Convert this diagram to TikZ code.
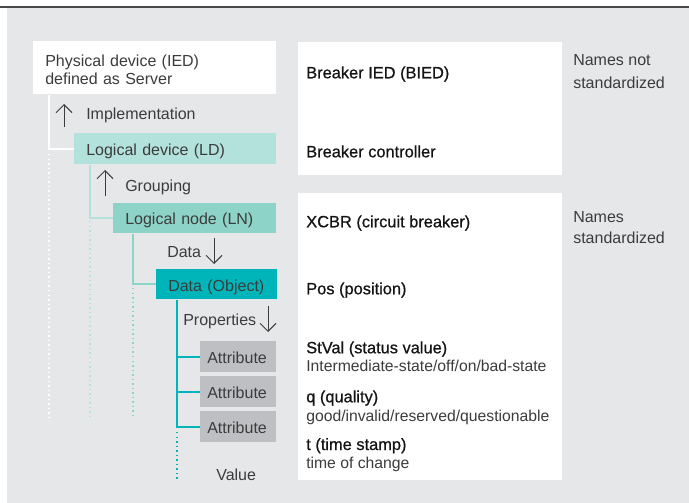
\documentclass[tikz,border=0pt]{standalone}
\usepackage{fontspec}
\setmainfont{Liberation Sans}
\usetikzlibrary{arrows.meta}
\definecolor{bg}{HTML}{E6E7E9}
\definecolor{ldc}{HTML}{B3E1DC}
\definecolor{lnc}{HTML}{8ED3C8}
\definecolor{doc}{HTML}{00B5BA}
\definecolor{attc}{HTML}{BEBFC3}
\definecolor{txt}{HTML}{3C3C3C}
\definecolor{dtxt}{HTML}{141414}
\definecolor{topline}{HTML}{4A4A4A}
\begin{document}
\begin{tikzpicture}[x=0.75pt,y=-0.75pt,
  lbl/.style={font=\fontsize{12}{14}\selectfont, text=txt, inner sep=0pt, anchor=base west},
  namelbl/.style={font=\fontsize{12.3}{14}\selectfont\addfontfeature{FakeBold=0.7}, text=dtxt, inner sep=0pt, anchor=base west},
  desc/.style={font=\fontsize{11.8}{14}\selectfont, text=txt, inner sep=0pt, anchor=base west},
  box/.style={anchor=north west, inner xsep=9pt, inner ysep=0pt, align=left,
    font=\fontsize{12}{13.9}\selectfont, text=txt, text height=12pt, text depth=2pt},
  attbox/.style={box, fill=attc, inner xsep=5.25pt, text width=46.5pt, minimum height=23.25pt},
  panel/.style={fill=white, anchor=north west, inner sep=0pt},
  tree/.style={line width=1.5pt},
  dots/.style={line width=1.5pt, dash pattern=on 1.1pt off 2.3pt},
  arr/.style={-{Straight Barb[length=6pt,width=12pt]}, line width=0.75pt, draw=txt}
]
\useasboundingbox (0,0) rectangle (689,503);
\fill[bg] (7,8) rectangle (689,503);
\draw[topline, line width=1.1pt] (0,7) -- (689,7);

% right panels
\node[panel, minimum width=198pt, minimum height=99.75pt] (rb1) at (298,42) {};
\node[panel, minimum width=198pt, minimum height=215.25pt] (rb2) at (298,193) {};

% dotted continuations
\draw[dots, white] (49,154) -- (49,418);
\draw[dots, ldc] (90,221) -- (90,418);
\draw[dots, lnc] (133,288) -- (133,418);
\draw[dots, doc] (177,432) -- (177,480);

% hierarchy boxes
\node[box, fill=white, text width=164.25pt, minimum height=39.75pt, text height=12pt, text depth=14.25pt] (ied) at (33,41)
  {Physical device (IED)\\defined as Server};
\node[box, fill=ldc, text width=133.5pt, minimum height=23.25pt] (ld) at (74,133)
  {Logical device (LD)};
\node[box, fill=lnc, text width=104.25pt, minimum height=22.5pt] (ln) at (113,203)
  {Logical node (LN)};
\node[box, fill=doc, text width=72.75pt, minimum height=22.5pt, text height=12.8pt] (do) at (156,269)
  {Data (Object)};
\node[attbox] (a1) at (200,341) {Attribute};
\node[attbox] (a2) at (200,376) {Attribute};
\node[attbox] (a3) at (200,411) {Attribute};

% tree connectors
\draw[tree, white] (ied.south west) ++(16,0) |- (ld.west);
\draw[tree, ldc] (ld.south west) ++(16,0) |- (ln.west);
\draw[tree, lnc] (ln.south west) ++(20,0) |- (do.west);
\draw[tree, doc] (do.south west) ++(21,0) |- (a3.west);
\draw[tree, doc] (do.south west) ++(21,0) |- (a1.west);
\draw[tree, doc] (do.south west) ++(21,0) |- (a2.west);

% relation labels and arrows
\draw[arr] (64,127) -- (64,104);
\node[lbl] (impl) at (86,119.3) {Implementation};
\draw[arr] (105,196) -- (105,170);
\node[lbl] (grp) at (125,191.3) {Grouping};
\node[lbl] (datal) at (167,257.7) {Data};
\draw[arr] (214,238) -- (214,264);
\node[lbl] (prop) at (183,325.7) {Properties};
\draw[arr] (268,306) -- (268,332);
\node[lbl] (val) at (216,480) {Value};

% right column texts
\node[namelbl] (n1) at (306,78.3) {Breaker IED (BIED)};
\node[namelbl] (n2) at (306,157.3) {Breaker controller};
\node[namelbl] (n3) at (306,227.3) {XCBR (circuit breaker)};
\node[namelbl] (n4) at (306,294.3) {Pos (position)};
\node[namelbl] (n5) at (306,353.3) {StVal (status value)};
\node[desc] (d5) at (306,371.7) {Intermediate-state/off/on/bad-state};
\node[namelbl] (n6) at (306,402.3) {q (quality)};
\node[desc] (d6) at (306,421) {good/invalid/reserved/questionable};
\node[namelbl] (n7) at (306,450) {t (time stamp)};
\node[desc] (d7) at (306,468.3) {time of change};

\node[lbl] (s1a) at (573,66) {Names not};
\node[lbl] (s1b) at (573,88.3) {standardized};
\node[lbl] (s2a) at (573,222.3) {Names};
\node[lbl] (s2b) at (573,243.3) {standardized};
\end{tikzpicture}
\end{document}
